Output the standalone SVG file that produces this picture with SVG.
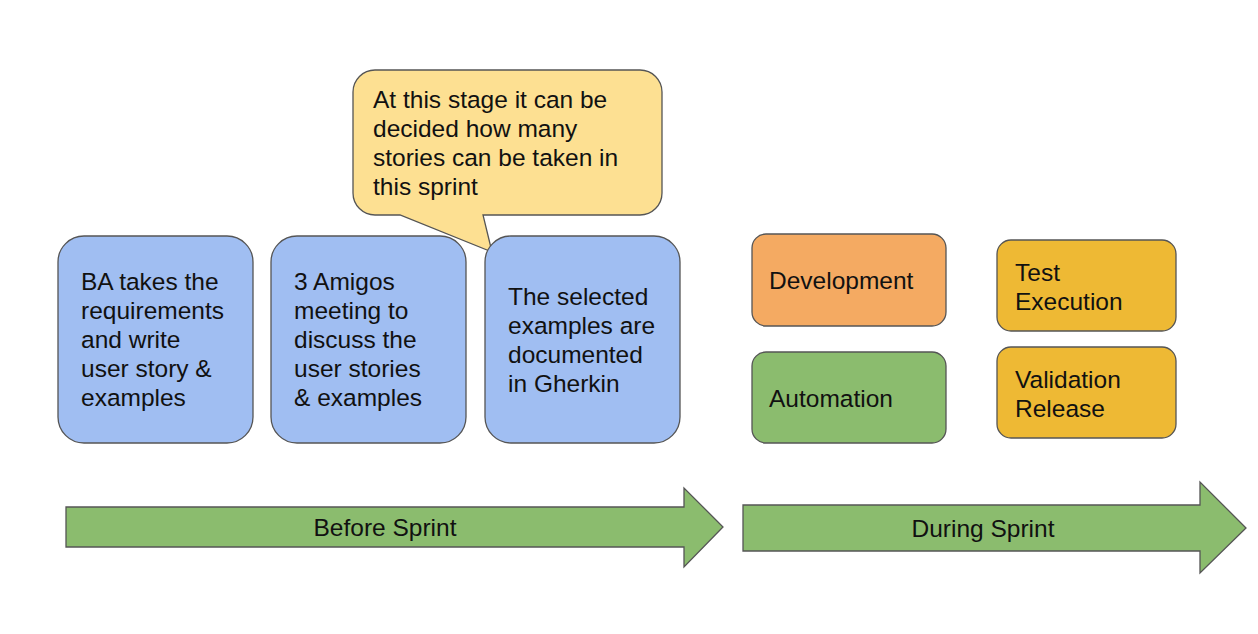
<svg xmlns="http://www.w3.org/2000/svg" width="1258" height="634" viewBox="0 0 1258 634">
<style>
text{font-family:"Liberation Sans",Arial,sans-serif;font-size:24.5px;fill:#111}
.box{stroke:#555;stroke-width:1.3}
.blue{fill:#A0BEF2}
.orange{fill:#F4AA62}
.green{fill:#8BBC6E}
.gold{fill:#EEB934}
.call{fill:#FDE092}
.mid{text-anchor:middle}
</style>
<rect width="1258" height="634" fill="#fff"/>
<g id="callout">
<path class="box call" d="M375,70 H640 A22,22 0 0 1 662,92 V193 A22,22 0 0 1 640,215 H483 L492,252 L400,215 H375 A22,22 0 0 1 353,193 V92 A22,22 0 0 1 375,70 Z"/>
<text x="373" y="108">At this stage it can be</text>
<text x="373" y="137">decided how many</text>
<text x="373" y="166">stories can be taken in</text>
<text x="373" y="195">this sprint</text>
</g>
<g id="ba">
<rect class="box blue" x="58" y="236" width="195" height="207" rx="26"/>
<text x="81" y="290">BA takes the</text>
<text x="81" y="319">requirements</text>
<text x="81" y="348">and write</text>
<text x="81" y="377">user story &amp;</text>
<text x="81" y="406">examples</text>
</g>
<g id="amigos">
<rect class="box blue" x="271" y="236" width="195" height="207" rx="26"/>
<text x="294" y="290">3 Amigos</text>
<text x="294" y="319">meeting to</text>
<text x="294" y="348">discuss the</text>
<text x="294" y="377">user stories</text>
<text x="294" y="406">&amp; examples</text>
</g>
<g id="gherkin">
<rect class="box blue" x="485" y="236" width="195" height="207" rx="26"/>
<text x="508" y="305">The selected</text>
<text x="508" y="334">examples are</text>
<text x="508" y="363">documented</text>
<text x="508" y="392">in Gherkin</text>
</g>
<g id="development">
<rect class="box orange" x="752" y="234" width="194" height="92" rx="14"/>
<text x="769" y="289">Development</text>
</g>
<g id="automation">
<rect class="box green" x="752" y="352" width="194" height="91" rx="14"/>
<text x="769" y="407">Automation</text>
</g>
<g id="test">
<rect class="box gold" x="997" y="240" width="179" height="91" rx="14"/>
<text x="1015" y="281">Test</text>
<text x="1015" y="310">Execution</text>
</g>
<g id="validation">
<rect class="box gold" x="997" y="347" width="179" height="91" rx="14"/>
<text x="1015" y="388">Validation</text>
<text x="1015" y="417">Release</text>
</g>
<g id="connectors">
<g id="before">
<path class="box green" d="M66,507 H684 V488 L723,527 L684,567 V547 H66 Z"/>
<text class="mid" x="385" y="536">Before Sprint</text>
</g>
<g id="during">
<path class="box green" d="M743,505 H1200 V482 L1246,528 L1200,573 V551 H743 Z"/>
<text class="mid" x="983" y="537">During Sprint</text>
</g>
</g>
</svg>
